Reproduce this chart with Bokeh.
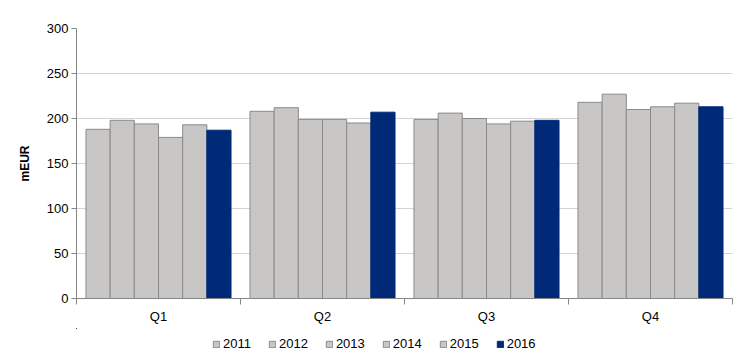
from bokeh.plotting import figure
from bokeh.models import (ColumnDataSource, FixedTicker, Range1d, Legend, LegendItem)
from bokeh.layouts import column
from bokeh.transform import dodge
from bokeh.embed import file_html
from bokeh.resources import INLINE

quarters = ["Q1", "Q2", "Q3", "Q4"]
years = ["2011", "2012", "2013", "2014", "2015", "2016"]
v2011 = [188, 208, 199, 218]
v2012 = [198, 212, 206, 227]
v2013 = [194, 199, 200, 210]
v2014 = [179, 199, 194, 213]
v2015 = [193, 195, 197, 217]
v2016 = [187, 207, 198, 213]
series = [v2011, v2012, v2013, v2014, v2015, v2016]
y_ticks = [0, 50, 100, 150, 200, 250, 300]

GRAY = "#C8C7C6"
NAVY = "#002A78"
FONT = "Liberation Sans"

centers = [i + 0.5 for i in range(len(quarters))]
data = {"x": centers}
for y, s in zip(years, series):
    data["y" + y] = s
src = ColumnDataSource(data)

p = figure(width=744, height=328, output_backend="svg", toolbar_location=None,
           x_range=Range1d(0, len(quarters)), y_range=Range1d(0, 300),
           min_border_left=76, min_border_right=12, min_border_top=28, min_border_bottom=30)
p.outline_line_color = None
p.background_fill_color = "white"
p.border_fill_color = "white"

# legend strip below the chart (its own small figure, same bars kept far out of view)
lg = figure(width=744, height=28, output_backend="svg", toolbar_location=None,
            x_range=Range1d(1000, 1001), y_range=Range1d(-1000, -999),
            min_border_left=0, min_border_right=0, min_border_top=0, min_border_bottom=0)
lg.axis.visible = False
lg.grid.visible = False
lg.outline_line_color = None

bw = 0.1474
items = []
for j, y in enumerate(years):
    off = (j - (len(years) - 1) / 2) * bw
    fill = NAVY if y == "2016" else GRAY
    line = NAVY if y == "2016" else "#8A8A8A"
    p.vbar(x=dodge("x", off, range=p.x_range), top="y" + y, width=bw, bottom=0,
           source=src, fill_color=fill, line_color=line, line_width=1)
    r = lg.vbar(x=dodge("x", off, range=lg.x_range), top="y" + y, width=bw, bottom=0,
                source=src, fill_color=fill, line_color=line, line_width=1)
    items.append(LegendItem(label=y, renderers=[r]))

# x axis
p.xaxis.ticker = FixedTicker(ticks=centers, minor_ticks=list(range(len(quarters) + 1)))
p.xaxis.major_label_overrides = {c: q for c, q in zip(centers, quarters)}
p.xaxis.major_tick_out = 0
p.xaxis.major_tick_in = 0
p.xaxis.minor_tick_out = 6
p.xaxis.minor_tick_in = 0
p.xaxis.minor_tick_line_color = "#868686"
p.xaxis.axis_line_color = "#868686"
p.xaxis.major_label_standoff = 4
p.xaxis.major_label_text_font = FONT
p.xaxis.major_label_text_font_size = "13px"
p.xaxis.major_label_text_color = "#000000"
p.xgrid.visible = False

# y axis
p.yaxis.ticker = FixedTicker(ticks=y_ticks)
p.yaxis.major_tick_out = 5
p.yaxis.major_tick_in = 0
p.yaxis.major_tick_line_color = "#868686"
p.yaxis.axis_line_color = "#868686"
p.yaxis.major_label_standoff = 3
p.yaxis.major_label_text_font = FONT
p.yaxis.major_label_text_font_size = "13px"
p.yaxis.major_label_text_color = "#000000"
p.yaxis.axis_label = "mEUR"
p.yaxis.axis_label_standoff = 12
p.yaxis.axis_label_text_font = FONT
p.yaxis.axis_label_text_font_size = "12px"
p.yaxis.axis_label_text_font_style = "bold"
p.yaxis.axis_label_text_color = "#000000"
p.ygrid.grid_line_color = "#D4D4D4"

leg = Legend(items=items, orientation="horizontal", location=(136, 5),
             glyph_width=8, glyph_height=8, label_standoff=3, spacing=17,
             padding=0, margin=0, border_line_color=None, background_fill_alpha=0,
             label_text_font=FONT, label_text_font_size="13px", label_text_color="#000000")
lg.add_layout(leg, "center")

layout = column(p, lg, spacing=0)
open("out.html", "w").write(file_html(layout, INLINE))
